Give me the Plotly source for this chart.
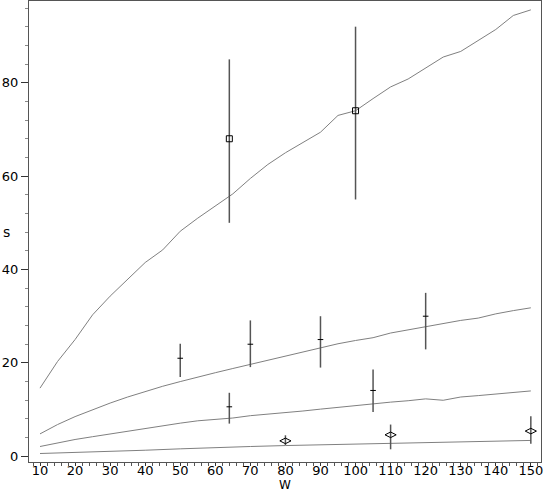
import plotly.graph_objects as go

w_curve = list(range(10, 155, 5))
s_top = [14.6, 20.3, 25.0, 30.3, 34.3, 38.0, 41.5, 44.2, 48.2, 51.0, 53.7, 56.2, 59.5, 62.5, 65.0,
         67.2, 69.4, 73.0, 74.0, 76.6, 79.1, 80.8, 83.2, 85.5, 86.7, 89.0, 91.4, 94.4, 95.6]
s_mid = [4.8, 6.8, 8.5, 10.0, 11.4, 12.7, 13.9, 15.0, 16.0, 17.0, 17.9, 18.8, 19.7, 20.6, 21.5,
         22.4, 23.3, 24.1, 24.8, 25.4, 26.4, 27.1, 27.8, 28.5, 29.1, 29.6, 30.5, 31.2, 31.8]
s_low = [2.1, 2.9, 3.6, 4.2, 4.8, 5.3, 5.9, 6.5, 7.1, 7.6, 7.9, 8.2, 8.7, 9.0, 9.4,
         9.7, 10.1, 10.5, 10.9, 11.3, 11.6, 11.9, 12.3, 12.0, 12.7, 13.0, 13.3, 13.6, 14.0]
w_base = list(range(10, 160, 10))
s_base = [0.6, 0.8, 1.0, 1.3, 1.6, 1.9, 2.1, 2.3, 2.45, 2.6, 2.75, 2.9, 3.05, 3.2, 3.4]

# observed points: value, top and bottom of the bar
obs_a_w = [64, 100]
obs_a_s = [68.0, 74.0]
obs_a_hi = [85.0, 92.0]
obs_a_lo = [50.0, 55.0]

obs_b_w = [50, 70, 90, 120]
obs_b_s = [21.0, 24.0, 25.0, 30.0]
obs_b_hi = [24.1, 29.1, 30.0, 35.0]
obs_b_lo = [17.0, 19.1, 19.0, 22.9]

obs_c_w = [64, 105]
obs_c_s = [10.6, 14.1]
obs_c_hi = [13.6, 18.6]
obs_c_lo = [7.0, 9.5]

obs_d_w = [80, 110, 150]
obs_d_s = [3.3, 4.6, 5.4]
obs_d_hi = [4.5, 6.8, 8.6]
obs_d_lo = [2.4, 1.5, 2.7]

line_grey = '#808080'
bar_grey = '#555555'

fig = go.Figure()

for w, s in [(w_curve, s_top), (w_curve, s_mid), (w_curve, s_low), (w_base, s_base)]:
    fig.add_trace(go.Scatter(x=w, y=s, mode='lines',
                             line=dict(color=line_grey, width=1), showlegend=False))


def add_obs(w, s, hi, lo, symbol, size):
    fig.add_trace(go.Scatter(
        x=w, y=s, mode='markers',
        marker=dict(symbol=symbol, size=size, color='black',
                    line=dict(color='black', width=1)),
        error_y=dict(type='data', symmetric=False,
                     array=[h - v for h, v in zip(hi, s)],
                     arrayminus=[v - l for v, l in zip(s, lo)],
                     color=bar_grey, thickness=1.5, width=0),
        showlegend=False,
    ))


add_obs(obs_a_w, obs_a_s, obs_a_hi, obs_a_lo, 'square-open', 6)
add_obs(obs_b_w, obs_b_s, obs_b_hi, obs_b_lo, 'line-ew', 4)
add_obs(obs_c_w, obs_c_s, obs_c_hi, obs_c_lo, 'line-ew', 4)
add_obs(obs_d_w, obs_d_s, obs_d_hi, obs_d_lo, 'diamond-wide-open', 8)

tick_font = dict(family='DejaVu Sans', size=13, color='black')

fig.update_layout(
    template='none',
    width=545,
    height=491,
    margin=dict(l=29, r=4, t=1, b=29),
    paper_bgcolor='white',
    plot_bgcolor='white',
    xaxis=dict(range=[6.86, 152.9], tick0=10, dtick=10, ticks='outside', ticklen=3,
               tickcolor='#333', showgrid=False, zeroline=False,
               showline=True, mirror=True, linecolor='#555', linewidth=1,
               tickfont=tick_font, automargin=False, ticklabelstandoff=-7,
               minor=dict(dtick=2, tick0=10, ticks='outside', ticklen=3, tickcolor='#555')),
    yaxis=dict(range=[-1.22, 97.5], tickvals=[0, 20, 40, 60, 80], ticks='outside', ticklen=7,
               tickcolor='#333', showgrid=False, zeroline=False,
               showline=True, mirror=True, linecolor='#555', linewidth=1,
               tickfont=tick_font, automargin=False,
               minor=dict(dtick=4, tick0=0, ticks='outside', ticklen=3, tickcolor='#888')),
    annotations=[
        dict(text='W', xref='paper', yref='paper', x=0.5, y=0, yshift=-15,
             xanchor='center', yanchor='top', showarrow=False, borderpad=0,
             font=dict(family='DejaVu Sans', size=12, color='black')),
        dict(text='s', xref='paper', yref='paper', x=0, xshift=-28, y=0.5,
             xanchor='left', yanchor='middle', showarrow=False,
             font=dict(family='DejaVu Sans', size=14, color='black')),
    ],
)

# drop the page's default body margin so the figure sits at the window's corner
fig.write_html('out.html', config={'displayModeBar': False},
               post_script="document.body.style.margin = '0';")
